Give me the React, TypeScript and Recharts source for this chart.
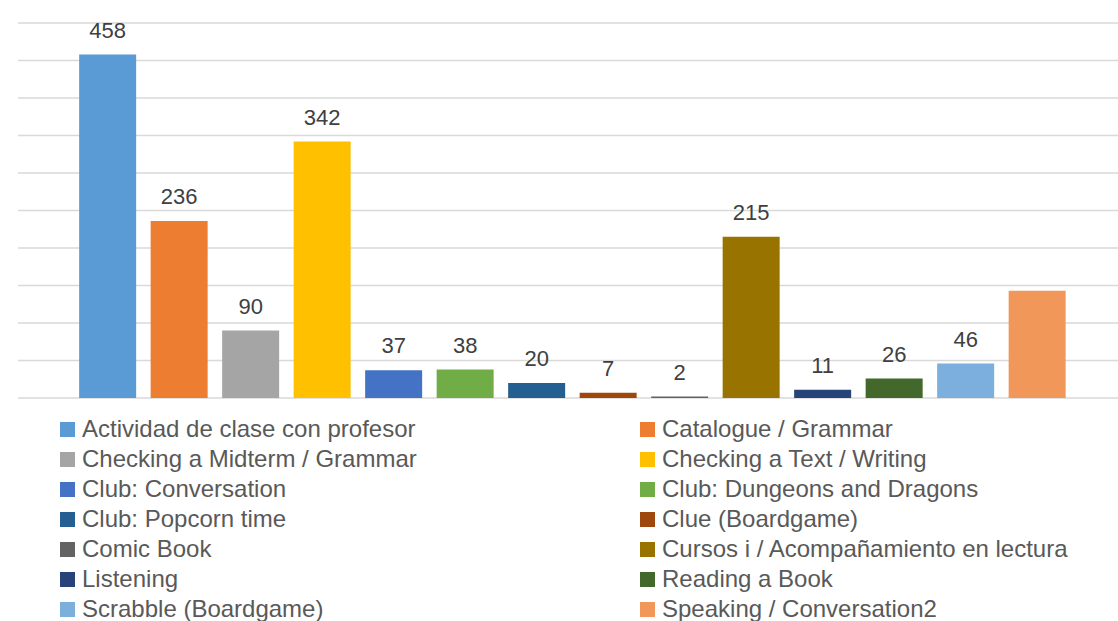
import React from "react";
import { BarChart, Bar, XAxis, YAxis, CartesianGrid, Cell, LabelList } from "recharts";

const activities = [
  "Actividad de clase con profesor",
  "Catalogue / Grammar",
  "Checking a Midterm / Grammar",
  "Checking a Text / Writing",
  "Club: Conversation",
  "Club: Dungeons and Dragons",
  "Club: Popcorn time",
  "Clue (Boardgame)",
  "Comic Book",
  "Cursos i / Acompañamiento en lectura",
  "Listening",
  "Reading a Book",
  "Scrabble (Boardgame)",
  "Speaking / Conversation2",
];
const sessions = [458, 236, 90, 342, 37, 38, 20, 7, 2, 215, 11, 26, 46, 143];
const colors = [
  "#5B9BD5", "#ED7D31", "#A5A5A5", "#FFC000", "#4472C4", "#70AD47", "#255E91",
  "#9E480E", "#636363", "#997300", "#264478", "#43682B", "#7CAFDD", "#F1975A",
];
const yTicks = [0, 50, 100, 150, 200, 250, 300, 350, 400, 450, 500];
// the last bar has no data label in the original
const unlabelled = ["Speaking / Conversation2"];

const data = activities.map((name, i) => ({ name, value: sessions[i] }));

const FONT = "'Liberation Sans', Arial, sans-serif";

const renderLabel = (props: any) => {
  const { x, y, width, value, index } = props;
  if (unlabelled.includes(activities[index])) return null;
  return (
    <text x={x + width / 2} y={y - 17} textAnchor="middle" fill="#404040" fontSize={22} fontFamily={FONT}>
      {value}
    </text>
  );
};

const ChartLegend = () => (
  <div
    style={{
      position: "absolute",
      top: 414,
      left: 60,
      display: "grid",
      gridTemplateColumns: "580px 460px",
      fontFamily: FONT,
      fontSize: 24,
      color: "#595959",
    }}
  >
    {activities.map((name, i) => (
      <div key={name} style={{ display: "flex", alignItems: "center", height: 30, whiteSpace: "nowrap" }}>
        <span style={{ width: 15, height: 15, background: colors[i], marginRight: 7, flexShrink: 0 }} />
        <span>{name}</span>
      </div>
    ))}
  </div>
);

export default function App() {
  return (
    <div style={{ position: "absolute", top: 0, left: 0, width: 1118, height: 621, overflow: "hidden", background: "#fff" }}>
      <BarChart
        width={1118}
        height={621}
        data={data}
        margin={{ top: 23, right: 0, bottom: 223, left: 18 }}
        barCategoryGap="10%"
      >
        <CartesianGrid vertical={false} stroke="#D9D9D9" strokeWidth={1.3} />
        <XAxis dataKey="name" hide padding={{ left: 54, right: 45 }} />
        <YAxis hide domain={[0, 500]} ticks={yTicks} />
        <Bar dataKey="value" isAnimationActive={false}>
          {data.map((d, i) => (
            <Cell key={d.name} fill={colors[i]} />
          ))}
          <LabelList dataKey="value" content={renderLabel} />
        </Bar>
      </BarChart>
      <ChartLegend />
    </div>
  );
}
